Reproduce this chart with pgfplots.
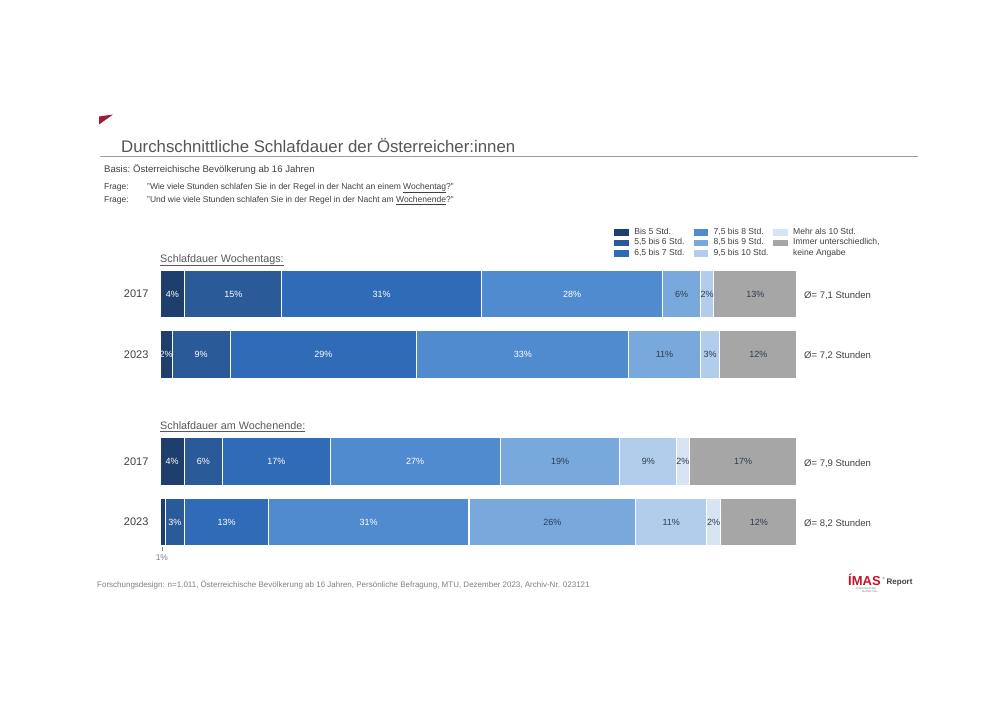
\documentclass[border=0pt]{standalone}
\usepackage{pgfplots}
\pgfplotsset{compat=1.18}
\usepackage{fontspec}
\setmainfont{Liberation Sans}
\definecolor{c1}{HTML}{1E3E6E}
\definecolor{c2}{HTML}{2A5A97}
\definecolor{c3}{HTML}{2F6BB7}
\definecolor{c4}{HTML}{508BCF}
\definecolor{c5}{HTML}{79A8DC}
\definecolor{c6}{HTML}{B1CDEB}
\definecolor{c7}{HTML}{D7E4F4}
\definecolor{c8}{HTML}{A6A6A6}
\definecolor{txt}{HTML}{404040}
\definecolor{titlegray}{HTML}{555555}
\definecolor{subgray}{HTML}{595959}
\definecolor{lbl}{HTML}{2F3B4F}
\definecolor{imasred}{HTML}{9E1B32}
\definecolor{logored}{HTML}{C4122F}
\newcommand{\fs}[1]{\fontsize{#1}{#1}\selectfont}
\begin{document}
\begin{tikzpicture}
\path[fill=white] (0,0) rectangle (1000pt,-707pt);
\begin{scope}[x=1pt,y=-1pt]
  \fill[imasred] (99,116.5) -- (113,114.5) -- (99,124.5) -- cycle;
  \node[anchor=base west, inner sep=0, text=titlegray, font=\fs{16.8}] at (121,152) {Durchschnittliche Schlafdauer der Österreicher:innen};
  \draw[gray!75, line width=0.8pt] (100,156.5) -- (918,156.5);
  \node[anchor=base west, inner sep=0, text=txt, font=\fs{9.6}] at (104,172.5) {Basis:};
  \node[anchor=base west, inner sep=0, text=txt, font=\fs{9.6}] at (133,172.5) {Österreichische Bevölkerung ab 16 Jahren};
  \node[anchor=base west, inner sep=0, text=txt, font=\fs{8.5}] at (104,189.5) {Frage:};
  \node[anchor=base west, inner sep=0, text=txt, font=\fs{8.5}] at (147,189.5) {"Wie viele Stunden schlafen Sie in der Regel in der Nacht an einem \underline{Wochentag}?"};
  \node[anchor=base west, inner sep=0, text=txt, font=\fs{8.5}] at (104,202.5) {Frage:};
  \node[anchor=base west, inner sep=0, text=txt, font=\fs{8.5}] at (147,202.5) {"Und wie viele Stunden schlafen Sie in der Regel in der Nacht am \underline{Wochenende}?"};
  \node[anchor=base west, inner sep=0, text=subgray, font=\fs{10.8}] at (160,262) {\underline{Schlafdauer Wochentags:}};
  \node[anchor=base west, inner sep=0, text=subgray, font=\fs{10.8}] at (160,429.5) {\underline{Schlafdauer am Wochenende:}};
  \foreach \yy/\tt in {298.5/{7,1}, 358/{7,2}, 466.5/{7,9}, 526/{8,2}}{
    \node[anchor=base west, inner sep=0, text=txt, font=\fs{9.5}] at (804,\yy) {Ø= \tt\ Stunden};
  }
  \node[anchor=base west, inner sep=0, text=gray, font=\fs{8}] at (97,587) {Forschungsdesign: n=1.011, Österreichische Bevölkerung ab 16 Jahren, Persönliche Befragung, MTU, Dezember 2023, Archiv-Nr. 023121};
  \node[anchor=base west, inner sep=0, text=logored, font=\bfseries\fs{13}] at (848,585) {ÍMAS};
  \node[anchor=base west, inner sep=0, text=txt, font=\fs{3}] at (882.5,579) {®};
  \node[anchor=base west, inner sep=0, text=txt, font=\bfseries\fs{8}] at (886.5,584.5) {Report};
  \node[anchor=base west, inner sep=0, text=gray, font=\fs{2.6}] at (856,589) {INTERNATIONAL};
  \node[anchor=base west, inner sep=0, text=gray, font=\fs{2.6}] at (862,592) {MARKETING};
\end{scope}

\begin{axis}[
  at={(160pt,-260pt)}, anchor=north west,
  scale only axis, width=637pt, height=296pt,
  xmin=0, xmax=100, ymin=-556, ymax=-260,
  xbar stacked, bar width=48pt,
  axis line style={draw=none}, tick style={draw=none},
  xtick=\empty,
  ytick={-294,-354.5,-461.7,-522}, yticklabels={2017,2023,2017,2023},
  yticklabel style={font=\fs{11}, text=txt, xshift=-8pt},
  clip=false,
  legend columns=3, transpose legend,
  legend cell align=left,
  legend image code/.code={\fill[#1] (0pt,-3.6pt) rectangle (16pt,3.6pt);},
  legend style={at={(axis cs:71.11,-227)}, anchor=north west, draw=none, fill=none,
    inner sep=0pt, font=\fs{8.6}, text=txt, row sep=0pt,
    nodes={inner sep=0pt, text height=7pt, text depth=3.5pt},
    /tikz/column 1/.style={column sep=4pt},
    /tikz/column 2/.style={column sep=8pt},
    /tikz/column 3/.style={column sep=4pt},
    /tikz/column 4/.style={column sep=3.5pt},
    /tikz/column 5/.style={column sep=4pt}},
  every axis plot/.append style={draw=white, line width=1.1pt},
]
\addplot[fill=c1] coordinates {(3.9,-294) (1.9,-354.5) (3.8,-461.7) (0.8,-522)};
\addlegendentry{Bis 5 Std.}
\addplot[fill=c2] coordinates {(15.2,-294) (9.1,-354.5) (6.0,-461.7) (3.1,-522)};
\addlegendentry{5,5 bis 6 Std.}
\addplot[fill=c3] coordinates {(31.4,-294) (29.3,-354.5) (16.9,-461.7) (13.1,-522)};
\addlegendentry{6,5 bis 7 Std.}
\addplot[fill=c4] coordinates {(28.4,-294) (33.3,-354.5) (26.7,-461.7) (31.5,-522)};
\addlegendentry{7,5 bis 8 Std.}
\addplot[fill=c5] coordinates {(6.0,-294) (11.2,-354.5) (18.8,-461.7) (26.2,-522)};
\addlegendentry{8,5 bis 9 Std.}
\addplot[fill=c6] coordinates {(2.0,-294) (3.1,-354.5) (8.9,-461.7) (11.1,-522)};
\addlegendentry{9,5 bis 10 Std.}
\addplot[fill=c7] coordinates {(0,-294) (0,-354.5) (2.0,-461.7) (2.2,-522)};
\addlegendentry{Mehr als 10 Std.}
\addplot[fill=c8] coordinates {(13.1,-294) (12.1,-354.5) (16.9,-461.7) (12.0,-522)};
\addlegendentry{Immer unterschiedlich,}
\addlegendimage{empty legend}
\addlegendentry{keine Angabe}
\end{axis}

\begin{axis}[
  at={(160pt,-260pt)}, anchor=north west,
  scale only axis, width=637pt, height=296pt,
  xmin=0, xmax=100, ymin=-556, ymax=-260,
  hide axis, clip=false,
  nodes near coords, point meta=explicit symbolic,
  nodes near coords style={anchor=center, font=\fs{9}, inner sep=0pt},
]
\addplot[only marks, mark=none, nodes near coords style={text=white}] coordinates {
  (1.95,-294) [4\%] (11.5,-294) [15\%] (34.8,-294) [31\%] (64.7,-294) [28\%]
  (0.95,-354.5) [2\%] (6.45,-354.5) [9\%] (25.65,-354.5) [29\%] (56.95,-354.5) [33\%]
  (1.9,-461.7) [4\%] (6.8,-461.7) [6\%] (18.25,-461.7) [17\%] (40.05,-461.7) [27\%]
  (2.35,-522) [3\%] (10.45,-522) [13\%] (32.75,-522) [31\%]
};
\addplot[only marks, mark=none, nodes near coords style={text=lbl}] coordinates {
  (81.9,-294) [6\%] (85.9,-294) [2\%] (93.45,-294) [13\%]
  (79.2,-354.5) [11\%] (86.35,-354.5) [3\%] (93.95,-354.5) [12\%]
  (62.8,-461.7) [19\%] (76.65,-461.7) [9\%] (82.1,-461.7) [2\%] (91.55,-461.7) [17\%]
  (61.6,-522) [26\%] (80.25,-522) [11\%] (86.9,-522) [2\%] (94.0,-522) [12\%]
};
\addplot[only marks, mark=none, nodes near coords style={text=gray, font=\fs{8.5}}] coordinates {
  (0.3,-558) [1\%]
};
\draw[gray, line width=0.5pt] (axis cs:0.3,-547) -- (axis cs:0.3,-551);
\end{axis}
\end{tikzpicture}
\end{document}
